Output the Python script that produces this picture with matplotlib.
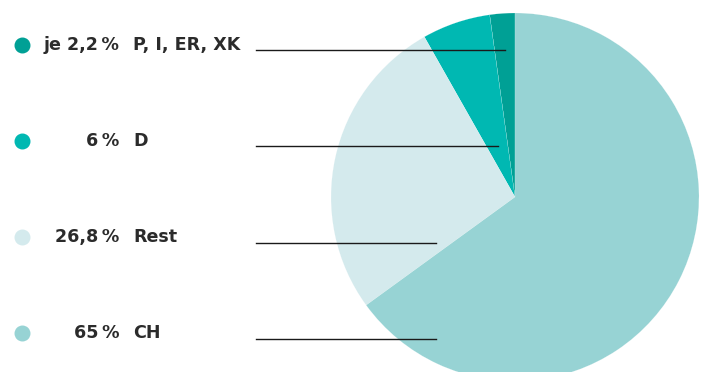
import matplotlib.pyplot as plt

# pie data, counterclockwise from 12 o'clock
shares = [2.2, 6, 26.8, 65]
colors = ['#00a095', '#00b8b2', '#d4eaed', '#97d3d4']

# legend rows, top to bottom
pct_labels = ['je 2,2\u2009%', '6\u2009%', '26,8\u2009%', '65\u2009%']
cat_labels = ['P, I, ER, XK', 'D', 'Rest', 'CH']
row_colors = ['#00a095', '#00b8b2', '#d4eaed', '#97d3d4']
line_ends = [505, 498, 436, 436]

W, H = 704, 372
fig = plt.figure(figsize=(W / 100, H / 100), dpi=100)
ax = fig.add_axes([0, 0, 1, 1])
ax.set_xlim(0, W)
ax.set_ylim(0, H)
ax.axis('off')

ax.pie(shares, colors=colors, startangle=90, counterclock=True,
       center=(515, H - 197), radius=184,
       wedgeprops=dict(edgecolor='white', linewidth=0.1))
ax.set_xlim(0, W)
ax.set_ylim(0, H)
ax.set_aspect('equal')

txt = '#2b2b2b'
for i in range(4):
    y = H - (45 + 96 * i)
    ax.scatter([22], [y], s=110, color=row_colors[i], zorder=3)
    ax.text(119, y, pct_labels[i], ha='right', va='center', fontsize=12.6,
            fontweight='bold', family='DejaVu Sans', color=txt)
    ax.text(133, y, cat_labels[i], ha='left', va='center', fontsize=12.6,
            fontweight='bold', family='DejaVu Sans', color=txt)
    ly = H - (50 + 96.3 * i)
    ax.plot([256, line_ends[i]], [ly, ly], color='#1a1a1a', linewidth=1, zorder=4)

fig.savefig('out.png', dpi=100)
